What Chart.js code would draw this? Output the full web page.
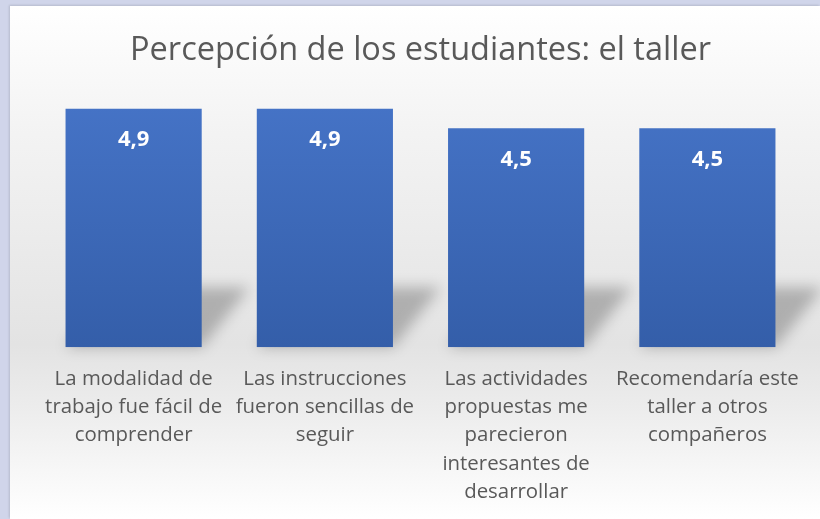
<!DOCTYPE html>
<html>
<head>
<meta charset="utf-8">
<script src="https://cdn.jsdelivr.net/npm/chart.js@4.4.0/dist/chart.umd.min.js"></script>
<style>
  html, body { margin: 0; padding: 0; }
  body { width: 820px; height: 519px; background: #d0d5ea; position: relative; overflow: hidden; }
  #panel {
    position: absolute; left: 10px; top: 6px; width: 810px; height: 513px;
    background: linear-gradient(#ffffff 0%, #f3f3f3 25%, #e3e3e3 66%, #ececec 78%, #ffffff 100%);
    box-shadow: -1px -1px 2px rgba(0,0,0,0.12);
  }
  #chart { display: block; }
</style>
</head>
<body>
<div id="panel"><canvas id="chart" width="810" height="513"></canvas></div>
<script>
const labels = [
  ["La modalidad de", "trabajo fue fácil de", "comprender"],
  ["Las instrucciones", "fueron sencillas de", "seguir"],
  ["Las actividades", "propuestas me", "parecieron", "interesantes de", "desarrollar"],
  ["Recomendaría este", "taller a otros", "compañeros"],
];
const values = [4.9, 4.9, 4.5, 4.5];
const titleText = "Percepción de los estudiantes: el taller";

const FONT = "'Open Sans', sans-serif";

// perspective shadow behind each bar
const barShadow = {
  id: "barShadow",
  beforeDatasetsDraw(chart) {
    const ctx = chart.ctx;
    const meta = chart.getDatasetMeta(0);
    ctx.save();
    ctx.filter = "blur(7px)";
    ctx.fillStyle = "rgba(0,0,0,0.24)";
    meta.data.forEach((bar) => {
      const left = bar.x - bar.width / 2;
      const right = bar.x + bar.width / 2;
      const base = bar.base;
      ctx.beginPath();
      ctx.moveTo(left, base);
      ctx.lineTo(right, base);
      ctx.lineTo(right + 48, base - 60);
      ctx.lineTo(left + 48, base - 60);
      ctx.closePath();
      ctx.fill();
    });
    ctx.restore();
  },
};

// value labels inside the bar tops
const valueLabels = {
  id: "valueLabels",
  afterDatasetsDraw(chart) {
    const ctx = chart.ctx;
    const meta = chart.getDatasetMeta(0);
    ctx.save();
    ctx.fillStyle = "#ffffff";
    ctx.font = "bold 22px " + FONT;
    ctx.textAlign = "center";
    ctx.textBaseline = "middle";
    meta.data.forEach((bar, i) => {
      ctx.fillText(values[i].toFixed(1).replace(".", ","), bar.x, bar.y + 31);
    });
    ctx.restore();
  },
};

new Chart(document.getElementById("chart").getContext("2d"), {
  type: "bar",
  data: {
    labels: labels,
    datasets: [
      {
        data: values,
        backgroundColor: (c) => {
          const area = c.chart.chartArea;
          if (!area) return "#4472c4";
          const g = c.chart.ctx.createLinearGradient(0, area.top, 0, area.bottom);
          g.addColorStop(0, "#4573c6");
          g.addColorStop(1, "#345ea9");
          return g;
        },
        borderWidth: 0,
        categoryPercentage: 1,
        barPercentage: 0.712,
      },
    ],
  },
  options: {
    responsive: false,
    animation: false,
    layout: {
      padding: { left: 28, right: 17, top: 0, bottom: 3 },
    },
    plugins: {
      legend: { display: false },
      tooltip: { enabled: false },
      title: {
        display: true,
        text: titleText,
        color: "#595959",
        fullSize: false,
        font: { family: FONT, size: 32.5, weight: "normal" },
        padding: { top: 25, bottom: 34 },
      },
    },
    scales: {
      y: {
        display: false,
        min: 0,
        max: 5,
      },
      x: {
        grid: { display: false },
        border: { display: false },
        ticks: {
          color: "#595959",
          maxRotation: 0,
          autoSkip: false,
          padding: 10,
          font: { family: FONT, size: 20.4, lineHeight: 1.38 },
        },
      },
    },
  },
  plugins: [barShadow, valueLabels],
});
</script>
</body>
</html>
